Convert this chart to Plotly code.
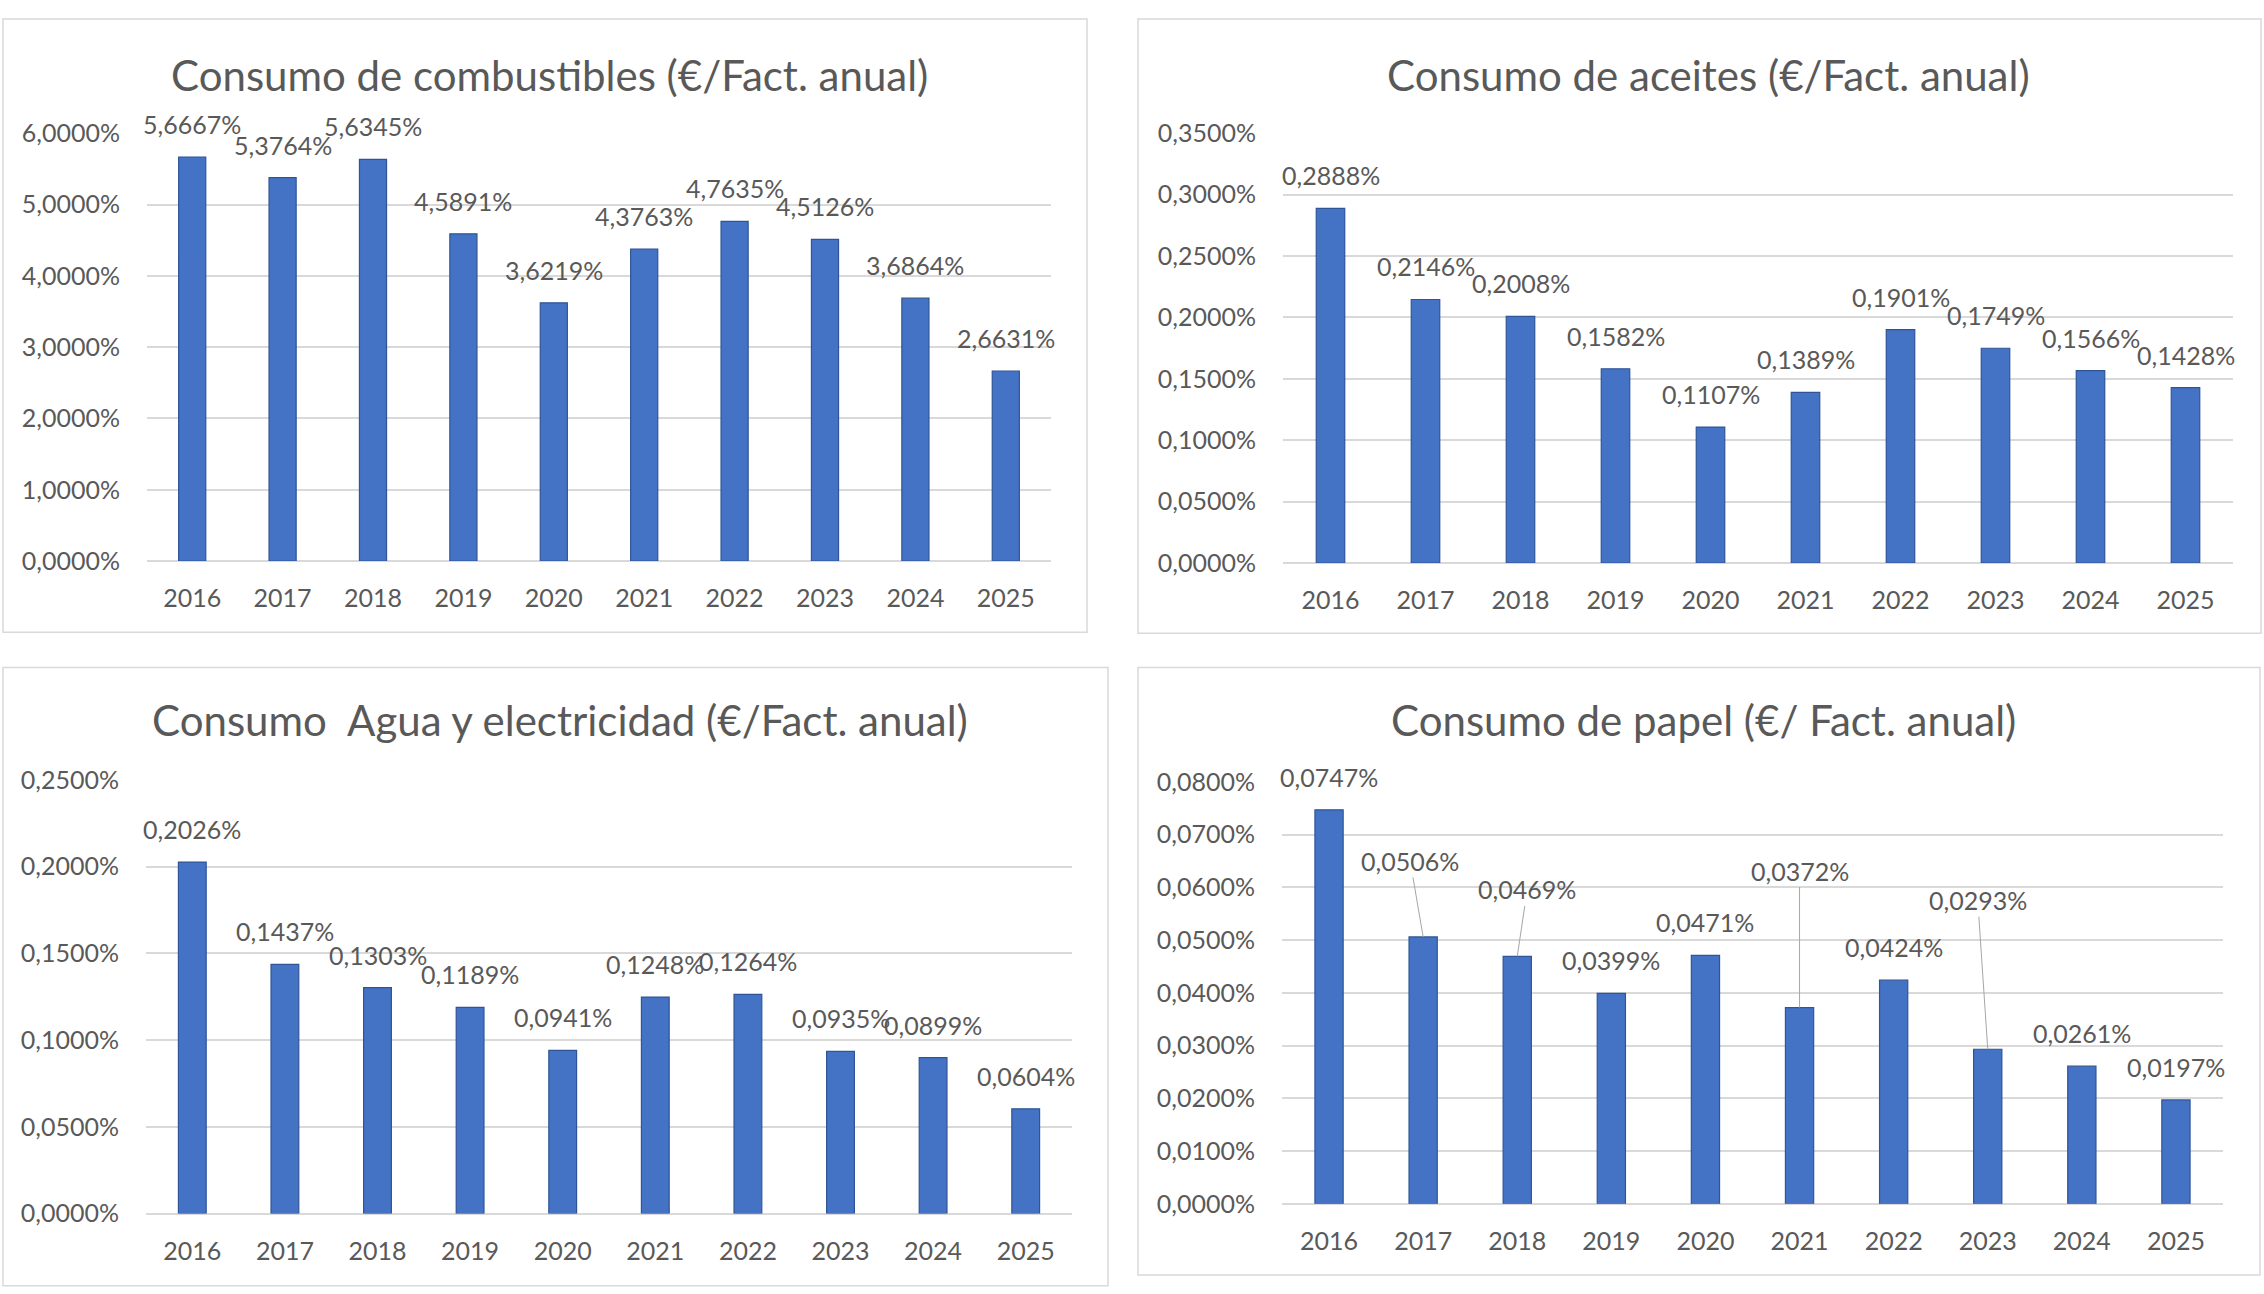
import plotly.graph_objects as go

W, H = 2264, 1294

years = [2016, 2017, 2018, 2019, 2020, 2021, 2022, 2023, 2024, 2025]

combustibles = [5.6667, 5.3764, 5.6345, 4.5891, 3.6219, 4.3763, 4.7635, 4.5126, 3.6864, 2.6631]
aceites = [0.2888, 0.2146, 0.2008, 0.1582, 0.1107, 0.1389, 0.1901, 0.1749, 0.1566, 0.1428]
agua_electricidad = [0.2026, 0.1437, 0.1303, 0.1189, 0.0941, 0.1248, 0.1264, 0.0935, 0.0899, 0.0604]
papel = [0.0747, 0.0506, 0.0469, 0.0399, 0.0471, 0.0372, 0.0424, 0.0293, 0.0261, 0.0197]

titles = [
    "Consumo de combustibles (€/Fact. anual)",
    "Consumo de aceites (€/Fact. anual)",
    "Consumo  Agua y electricidad (€/Fact. anual)",
    "Consumo de papel (€/ Fact. anual)",
]
y_max = [6.0, 0.35, 0.25, 0.08]
y_step = [1.0, 0.05, 0.05, 0.01]

# layout (pixel geometry of each panel)
panels = [
    dict(px=(147, 1051), py=(120, 558), box=(3, 3, 1087, 631), title=(549, 60)),
    dict(px=(1283, 2233), py=(120, 560), box=(1138, 3, 2261, 632), title=(1708, 60)),
    dict(px=(146, 1072), py=(782, 1226), box=(3, 667, 1108, 1300), title=(560, 721)),
    dict(px=(1282, 2223), py=(784, 1216), box=(1138, 667, 2260, 1289), title=(1703, 721)),
]
# label offsets for leader-line labels in panel 4: index -> (ax, ay)
leader_offsets = {1: (-13, -76), 2: (10, -67), 5: (0, -137), 7: (-10, -149)}

series = [combustibles, aceites, agua_electricidad, papel]

TXT = "#595959"
GRID = "#D9D9D9"
FONT = "Lato"
TICK_SIZE = 25

fig = go.Figure()
annotations = []
shapes = []

for i, (vals, p) in enumerate(zip(series, panels)):
    n = "" if i == 0 else str(i + 1)
    fig.add_trace(go.Bar(
        x=years, y=[v / 100 for v in vals], width=0.3,
        marker=dict(color="#4472C4", line=dict(color="#2F5597", width=1.2)),
        xaxis="x" + n, yaxis="y" + n, showlegend=False, hoverinfo="skip",
    ))
    xd = [p["px"][0] / W, p["px"][1] / W]
    yd = [1 - p["py"][1] / H, 1 - p["py"][0] / H]
    fig.layout["xaxis" + n] = dict(
        domain=xd, anchor="y" + n, type="linear", range=[years[0] - 0.5, years[-1] + 0.5],
        tickmode="array", tickvals=years, ticktext=[str(y) for y in years],
        showgrid=False, showline=False, zeroline=False,
        ticks="", tickfont=dict(family=FONT, size=TICK_SIZE, color=TXT),
        ticklabelstandoff=20, fixedrange=True,
    )
    fig.layout["yaxis" + n] = dict(
        domain=yd, anchor="x" + n, range=[0, y_max[i] / 100], dtick=y_step[i] / 100,
        tickformat=".4%", showgrid=True, gridcolor=GRID, gridwidth=1.5,
        zeroline=True, zerolinecolor=GRID, zerolinewidth=1.5, showline=False,
        ticks="", tickfont=dict(family=FONT, size=TICK_SIZE, color=TXT),
        ticklabelstandoff=26, fixedrange=True,
    )
    # panel border
    x0, y0, x1, y1 = p["box"]
    shapes.append(dict(type="rect", xref="paper", yref="paper",
                       x0=x0 / W, x1=x1 / W, y0=1 - y1 / H, y1=1 - y0 / H,
                       line=dict(color=GRID, width=1.5), fillcolor="rgba(0,0,0,0)", layer="below"))
    # title
    annotations.append(dict(xref="paper", yref="paper", x=p["title"][0] / W, y=1 - p["title"][1] / H,
                            text=titles[i], showarrow=False, xanchor="center", yanchor="middle",
                            font=dict(family=FONT, size=42, color=TXT)))
    # data labels
    for j, (yr, v) in enumerate(zip(years, vals)):
        label = f"{v:.4f}".replace(".", ",") + "%"
        if i == 3 and j in leader_offsets:
            ax, ay = leader_offsets[j]
            annotations.append(dict(xref="x" + n, yref="y" + n, x=yr, y=v / 100, text=label,
                                    showarrow=True, arrowhead=0, arrowwidth=1, arrowcolor="#A6A6A6",
                                    ax=ax, ay=ay, standoff=0,
                                    font=dict(family=FONT, size=TICK_SIZE, color=TXT)))
        else:
            annotations.append(dict(xref="x" + n, yref="y" + n, x=yr, y=v / 100, text=label,
                                    showarrow=False, xanchor="center", yanchor="middle", yshift=33,
                                    font=dict(family=FONT, size=TICK_SIZE, color=TXT)))

fig.update_layout(
    width=W, height=H, margin=dict(l=0, r=0, t=0, b=0),
    paper_bgcolor="white", plot_bgcolor="white",
    separators=",.",
    annotations=annotations, shapes=shapes,
    font=dict(family=FONT, color=TXT),
)

fig.write_html(
    "out.html",
    config={"displayModeBar": False},
    post_script="document.body.style.margin='0px';document.body.style.overflow='hidden';",
)
